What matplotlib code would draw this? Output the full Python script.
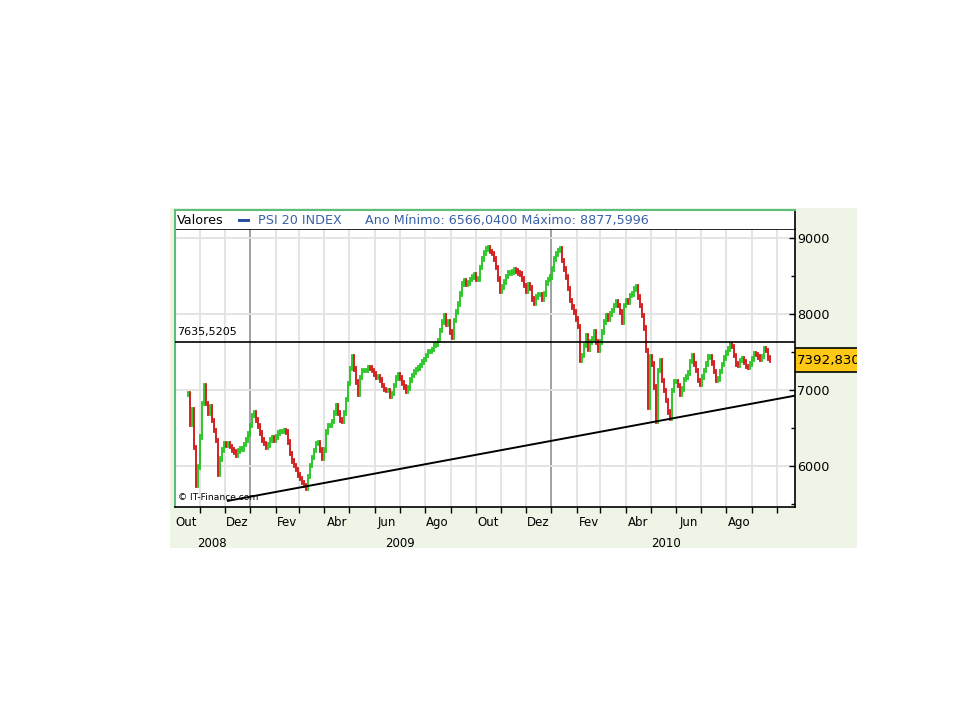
import matplotlib
matplotlib.use("Agg")
import matplotlib.pyplot as plt
import matplotlib.dates as mdates
from matplotlib.patches import Rectangle
import numpy as np
import pandas as pd

plt.rcParams['font.family'] = ['DejaVu Sans']

# ---------------- data ----------------
start_date = '2008-10-17'
end_date = '2010-09-22'
close = [
    6950, 6550, 6750, 6250, 5750, 5990, 6385, 6829, 7066, 6829,
    6697, 6780, 6605, 6474, 6342, 5900, 6100, 6220, 6300, 6280,
    6300, 6260, 6220, 6190, 6150, 6200, 6230, 6230, 6290, 6350,
    6430, 6540, 6670, 6700, 6610, 6530, 6440, 6350, 6300, 6255,
    6280, 6350, 6375, 6350, 6390, 6440, 6460, 6460, 6470, 6450,
    6320, 6170, 6070, 6010, 5960, 5890, 5840, 5790, 5750, 5720,
    5870, 6010, 6120, 6210, 6300, 6310, 6220, 6110, 6220, 6450,
    6540, 6540, 6590, 6700, 6800, 6700, 6610, 6600, 6700, 6880,
    7090, 7290, 7438, 7285, 7109, 6950, 7170, 7260, 7260, 7265,
    7300, 7295, 7260, 7220, 7175, 7175, 7140, 7066, 7010, 7000,
    7000, 6930, 6960, 7066, 7165, 7208, 7165, 7100, 7044, 6990,
    7030, 7140, 7197, 7240, 7274, 7296, 7330, 7373, 7406, 7460,
    7515, 7515, 7537, 7600, 7614, 7658, 7790, 7900, 7987, 7878,
    7899, 7767, 7700, 7920, 8030, 8140, 8270, 8400, 8448, 8400,
    8414, 8460, 8490, 8524, 8460, 8470, 8620, 8732, 8810, 8864,
    8880, 8830, 8800, 8730, 8620, 8470, 8300, 8360, 8426, 8500,
    8546, 8546, 8557, 8590, 8570, 8546, 8535, 8470, 8380, 8300,
    8393, 8350, 8200, 8150, 8230, 8261, 8261, 8206, 8270, 8414,
    8458, 8490, 8600, 8732, 8798, 8842, 8860, 8710, 8600, 8490,
    8340, 8184, 8096, 8030, 7943, 7844, 7395, 7461, 7592, 7724,
    7549, 7636, 7680, 7767, 7636, 7526, 7636, 7767, 7899, 7987,
    7943, 8009, 8053, 8118, 8162, 8118, 8031, 7899, 8118, 8184,
    8162, 8250, 8272, 8338, 8360, 8228, 8118, 7987, 7820, 7526,
    6780, 7438, 7351, 7044, 6600, 7263, 7395, 7132, 7000, 6868,
    6715, 6640, 7000, 7120, 7120, 7066, 6956, 7022, 7143, 7176,
    7230, 7380, 7450, 7351, 7263, 7131, 7088, 7176, 7263, 7351,
    7439, 7439, 7362, 7252, 7131, 7154, 7252, 7340, 7428, 7494,
    7548, 7603, 7581, 7460, 7351, 7329, 7395, 7417, 7373, 7318,
    7307, 7351, 7417, 7483, 7471, 7438, 7405, 7449, 7548, 7526,
    7428, 7393,
]
trend_dates = ['2008-12-05', '2010-10-23']
trend_values = [5541, 6925]
resistance_level = 7635.5205
last_value = 7392.830
year_labels = ['2008', '2009', '2010']
year_label_dates = ['2008-11-16', '2009-07-02', '2010-05-20']
month_labels = ['Out', 'Dez', 'Fev', 'Abr', 'Jun', 'Ago', 'Out', 'Dez', 'Fev', 'Abr', 'Jun', 'Ago']
month_label_dates = ['2008-10-16', '2008-12-16', '2009-02-15', '2009-04-16', '2009-06-16', '2009-08-16',
                     '2009-10-16', '2009-12-16', '2010-02-15', '2010-04-16', '2010-06-16', '2010-08-16']
legend_series = 'PSI 20 INDEX'
legend_stats = 'Ano Mínimo: 6566,0400 Máximo: 8877,5996'

# ---------------- figure ----------------
W, H = 960, 720
fig = plt.figure(figsize=(9.6, 7.2), dpi=100, facecolor='white')

def fbox(x0, y0, x1, y1):
    return [x0 / W, (H - y1) / H, (x1 - x0) / W, (y1 - y0) / H]

panel_col = '#EEF5E7'
green_border = '#5DBE7C'
fig.patches.append(Rectangle((170 / W, (H - 548) / H), 687 / W, 340 / H,
                             transform=fig.transFigure, facecolor=panel_col,
                             edgecolor='none', zorder=-5))

dates = pd.date_range(start_date, end_date, periods=len(close))
close_a = np.array(close, dtype=float)
open_a = np.concatenate([[close_a[0]], close_a[:-1]])
up = close_a >= open_a
cols = np.where(up, '#22C41E', '#D01515')
wick = 30  # visual extent of each bar beyond open/close (style)
lo = np.minimum(open_a, close_a) - wick
hi = np.maximum(open_a, close_a) + wick

ymin, ymax = 5460, 9118
xmin, xmax = pd.Timestamp('2008-10-02'), pd.Timestamp('2010-10-23')

ax = fig.add_axes(fbox(175, 229, 795, 507))
ax.set_facecolor('white')
ax.set_xlim(xmin, xmax)
ax.set_ylim(ymin, ymax)

# grid
for d in pd.date_range('2008-10-01', '2010-10-01', freq='MS'):
    c = '#9A9A9A' if d.month == 1 else '#E2E2E2'
    ax.axvline(d, color=c, lw=1.3, zorder=1)
for v in [6000, 7000, 8000, 9000]:
    ax.axhline(v, color='#E2E2E2', lw=1.3, zorder=1)

ax.bar(dates, hi - lo, bottom=lo, width=1.6, color=cols,
       edgecolor=cols, linewidth=0.6, zorder=3)

ax.plot(pd.to_datetime(trend_dates), trend_values, color='black', lw=1.4, zorder=4)
ax.axhline(resistance_level, color='black', lw=1.2, zorder=4)
ax.text(0.004, resistance_level + 60, '7635,5205', transform=ax.get_yaxis_transform(),
        fontsize=8, color='black', ha='left', va='bottom', zorder=5)
ax.text(0.005, 0.035, '© IT-Finance.com', transform=ax.transAxes, fontsize=6.6,
        color='black', ha='left', va='center', zorder=5)

# spines
for s in ['top', 'right', 'bottom']:
    ax.spines[s].set_color('black')
    ax.spines[s].set_linewidth(1.2)
ax.spines['left'].set_color(green_border)
ax.spines['left'].set_linewidth(1.5)

# y axis on right
ax.yaxis.tick_right()
ax.set_yticks([6000, 7000, 8000, 9000])
ax.set_yticks([5500, 6500, 7500, 8500], minor=True)
ax.set_yticklabels(['6000', '7000', '8000', '9000'])
ax.tick_params(axis='y', which='major', direction='in', length=4, width=1,
               labelsize=9.2, pad=1.5, right=True, left=False)
ax.tick_params(axis='y', which='minor', direction='in', length=3, width=1,
               right=True, left=False)

# x axis
ax.xaxis.set_major_locator(mdates.MonthLocator())
ax.xaxis.set_major_formatter(plt.NullFormatter())
ax.tick_params(axis='x', which='major', direction='out', length=4, width=1)
for lab, d in zip(month_labels, month_label_dates):
    ax.text(pd.Timestamp(d), -0.055, lab, transform=ax.get_xaxis_transform(),
            ha='center', va='center', fontsize=8.5, color='black')
for lab, d in zip(year_labels, year_label_dates):
    ax.text(pd.Timestamp(d), -0.13, lab, transform=ax.get_xaxis_transform(),
            ha='center', va='center', fontsize=8.5, color='black')

# legend strip
axl = fig.add_axes(fbox(175, 210, 795, 229))
axl.set_facecolor('white')
axl.set_xlim(175, 795)
axl.set_ylim(0, 1)
axl.set_xticks([])
axl.set_yticks([])
axl.spines['top'].set_color(green_border)
axl.spines['top'].set_linewidth(1.5)
axl.spines['left'].set_color(green_border)
axl.spines['left'].set_linewidth(1.5)
axl.spines['right'].set_color('black')
axl.spines['right'].set_linewidth(1.2)
axl.spines['bottom'].set_visible(False)
axl.text(177, 0.45, 'Valores', fontsize=9.2, color='black', ha='left', va='center')
axl.add_patch(Rectangle((238, 0.35), 12, 0.2, facecolor='#2A52A0', edgecolor='none'))
axl.text(258, 0.45, legend_series, fontsize=9.2, color='#3A62A8', ha='left', va='center')
axl.text(365, 0.45, legend_stats, fontsize=9.2, color='#3A62A8', ha='left', va='center')

# last value box at the right
axr = fig.add_axes(fbox(795, 229, 857, 507))
axr.set_xlim(0, 1)
axr.set_ylim(ymin, ymax)
axr.axis('off')
box_h = 24 * (ymax - ymin) / 278
axr.add_patch(Rectangle((0, last_value - box_h / 2), 1.2, box_h, facecolor='#FFC814',
                        edgecolor='black', linewidth=1.2, clip_on=True))
axr.text(0.03, last_value, '7392,830', fontsize=9.6, color='black', ha='left',
         va='center', clip_on=True)

fig.savefig('out.png', dpi=100, facecolor='white')
